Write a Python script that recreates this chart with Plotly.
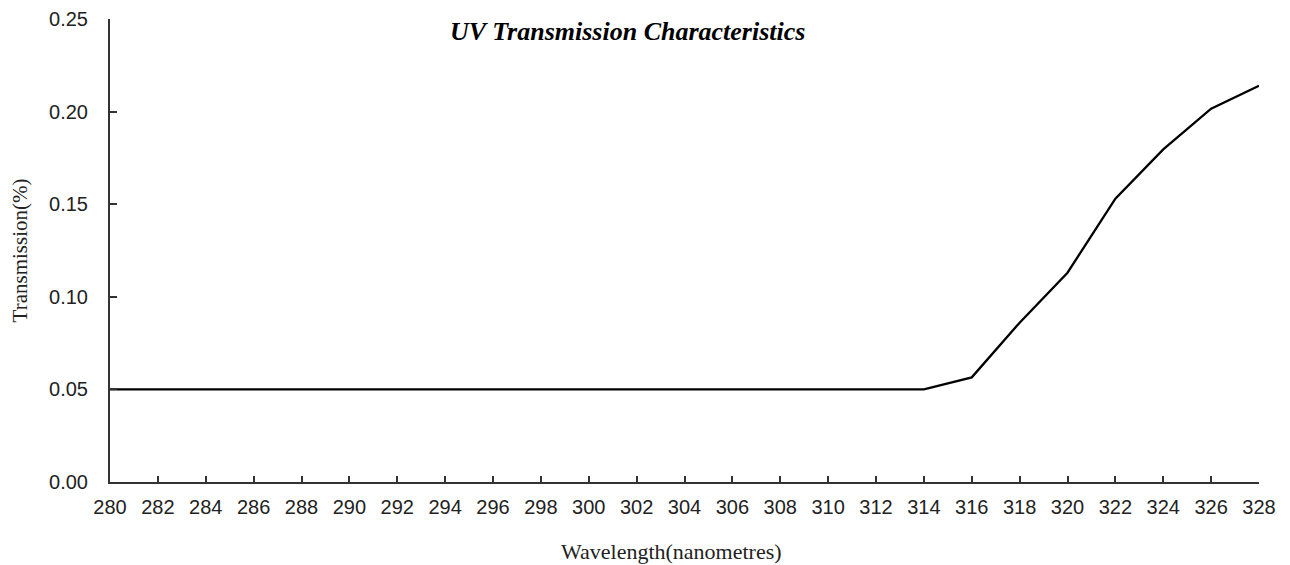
import plotly.graph_objects as go

wavelength = list(range(280, 330, 2))
transmission = [0.05] * 18 + [0.0565, 0.086, 0.113, 0.153, 0.1796, 0.2016, 0.214]
x_ticks = list(range(280, 330, 2))
y_ticks = [0.00, 0.05, 0.10, 0.15, 0.20, 0.25]

# page has an 8px body margin; figure is sized to fit inside the window
W, H = 1282, 557
L, R, T, B = 102, 31, 11, 83
plot_w = W - L - R
plot_h = H - T - B
bottom_page = 8 + H - B  # page y of the x axis


def py(page_y):
    return (bottom_page - page_y) / plot_h


def px(page_x):
    return (page_x - 8 - L) / plot_w


fig = go.Figure()
fig.add_trace(go.Scatter(x=wavelength, y=transmission, mode="lines",
                         line=dict(color="black", width=2.3), showlegend=False))

serif = "Liberation Serif, Times New Roman"
fig.update_layout(
    width=W, height=H,
    margin=dict(l=L, r=R, t=T, b=B, autoexpand=False),
    paper_bgcolor="white", plot_bgcolor="white",
    font=dict(family="Liberation Sans, Arial", size=20, color="#222"),
    xaxis=dict(range=[280, 328], tickvals=x_ticks, ticktext=[str(v) for v in x_ticks],
               showgrid=False, zeroline=False, showline=True, linecolor="#333", linewidth=2,
               ticks="inside", ticklen=6, tickcolor="#333", tickwidth=1.5,
               ticklabelstandoff=6, ticklabeloverflow="allow", automargin=False),
    yaxis=dict(range=[0, 0.25], tickvals=y_ticks, ticktext=[f"{v:.2f}" for v in y_ticks],
               showgrid=False, zeroline=False, showline=True, linecolor="#333", linewidth=2,
               ticks="inside", ticklen=7, tickcolor="#333", tickwidth=1.5,
               ticklabelstandoff=16, ticklabeloverflow="allow", automargin=False,
               title=dict(text="Transmission(%)", standoff=20,
                          font=dict(family=serif, size=21, color="#222"))),
    annotations=[
        dict(text="<b><i>UV Transmission Characteristics</i></b>",
             xref="paper", yref="paper", x=px(627), y=py(31),
             xanchor="center", yanchor="middle", showarrow=False,
             font=dict(family=serif, size=26, color="black")),
        dict(text="Wavelength(nanometres)",
             xref="paper", yref="paper", x=px(671), y=py(551),
             xanchor="center", yanchor="middle", showarrow=False,
             font=dict(family=serif, size=22, color="#222")),
    ],
)

fig.write_html("out.html")
